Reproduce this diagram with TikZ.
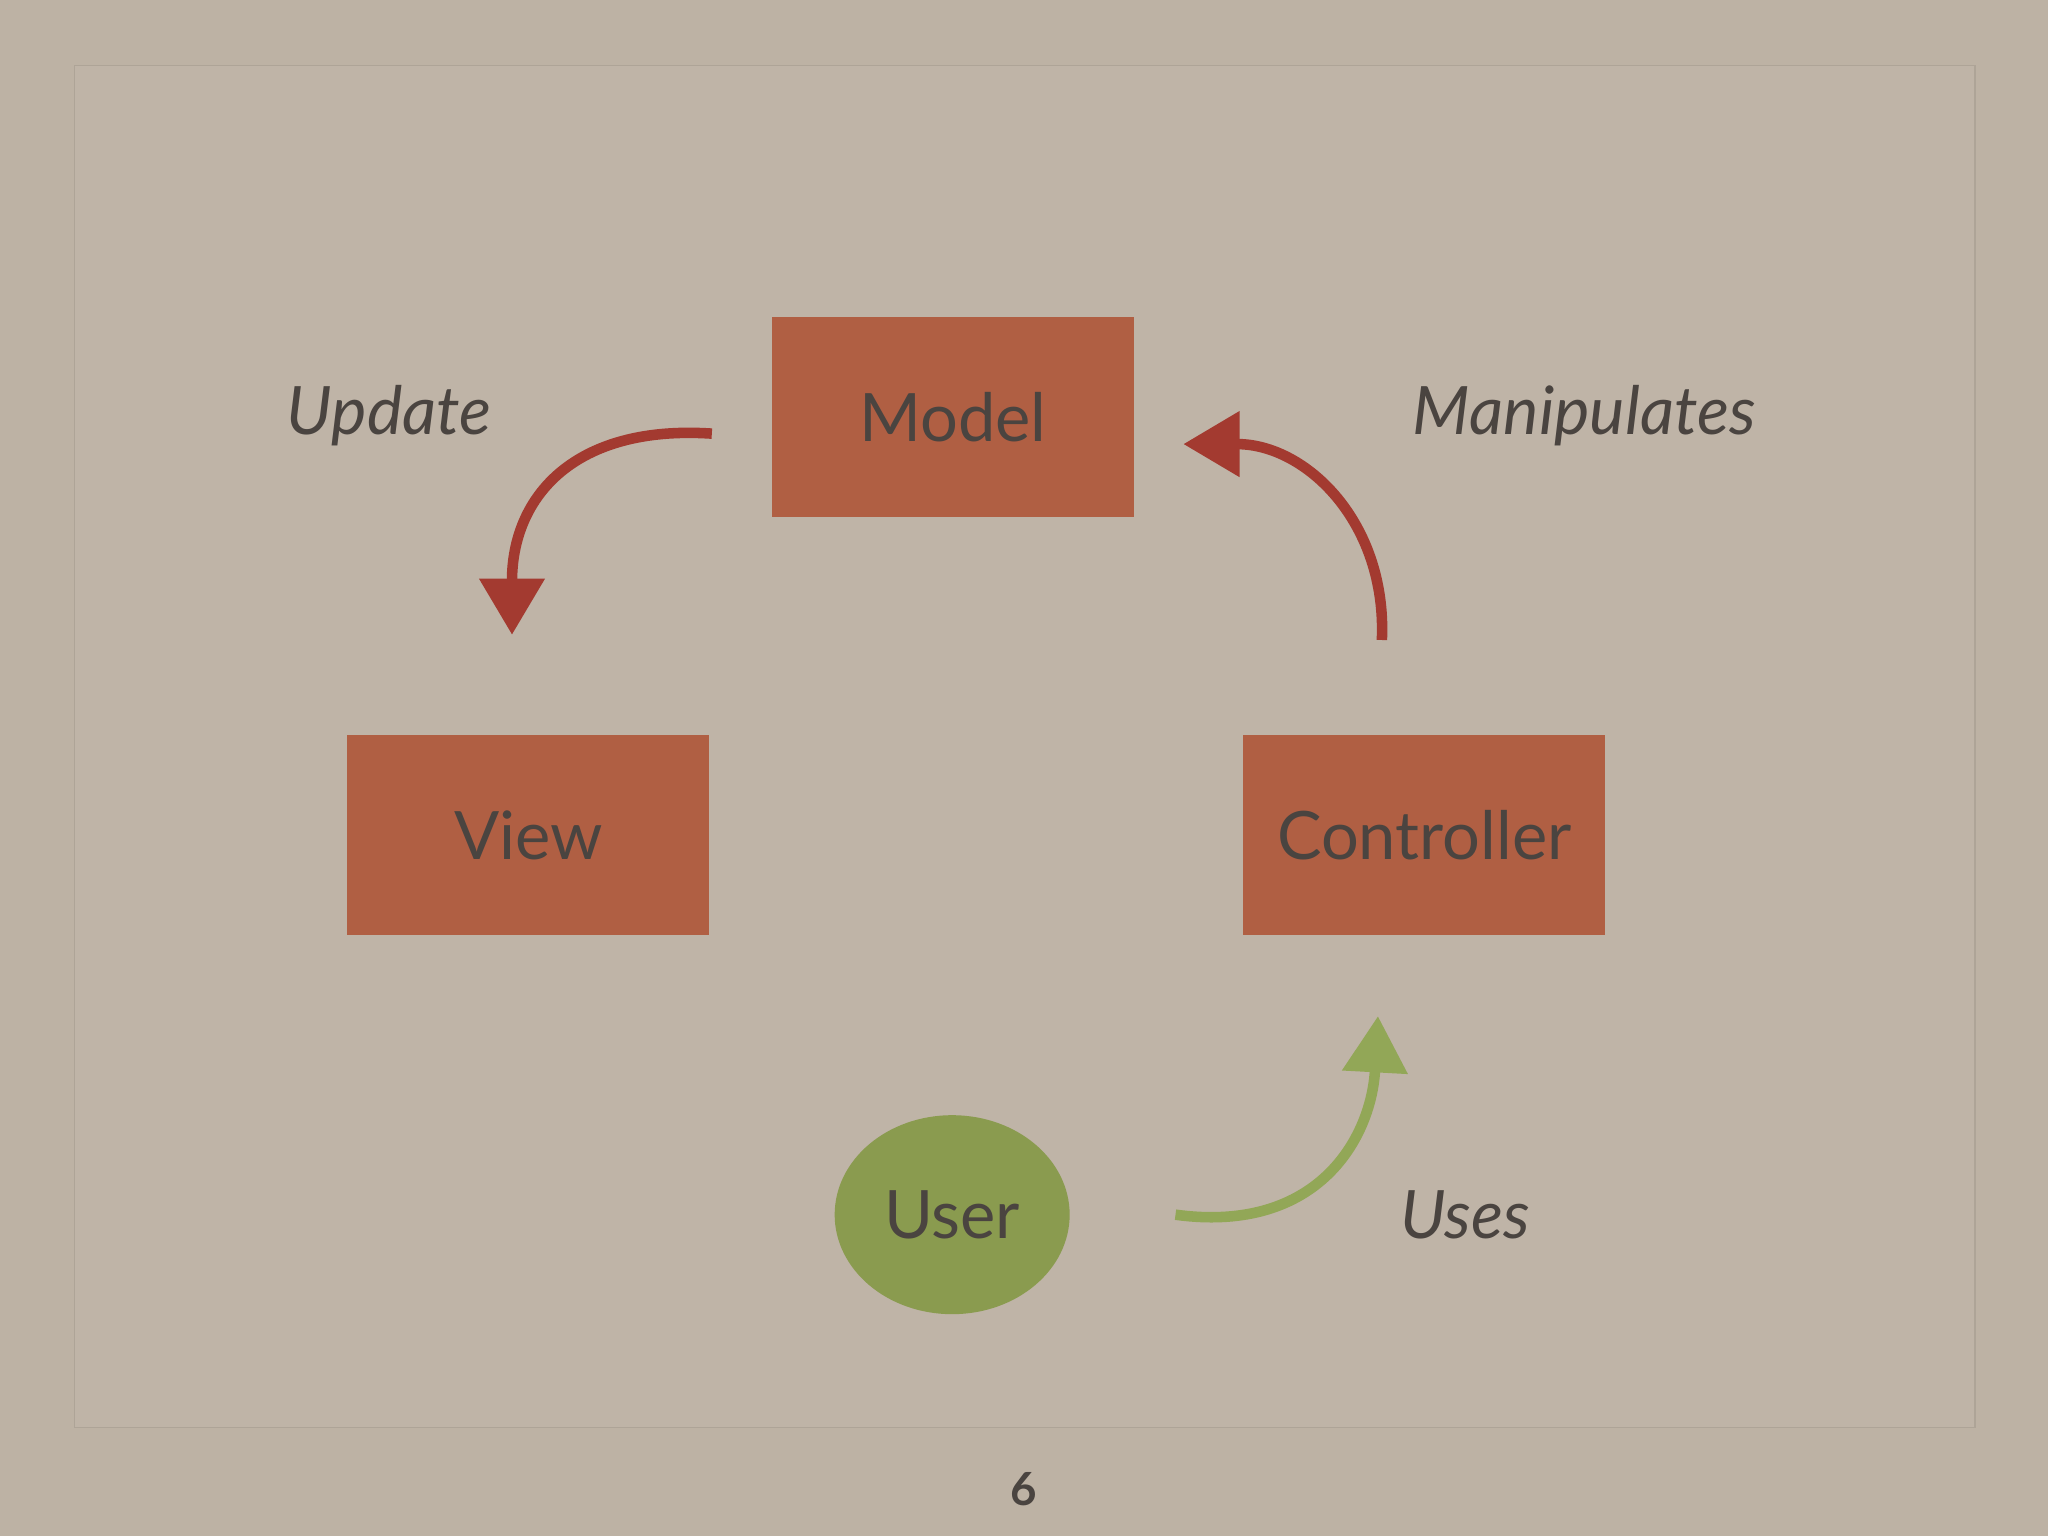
\documentclass[tikz,border=0pt]{standalone}
\usepackage{fontspec}
\setmainfont{Lato}
\usetikzlibrary{arrows.meta,shapes.geometric}
\definecolor{paper}{HTML}{BDB2A4}
\definecolor{boxred}{HTML}{B05F43}
\definecolor{usergreen}{HTML}{8A9B4F}
\definecolor{arrred}{HTML}{A33A30}
\definecolor{arrgreen}{HTML}{92A757}
\definecolor{ink}{HTML}{4A4440}
\tikzset{
  part/.style={fill=boxred,minimum width=3.62cm,minimum height=2cm,text=ink,font=\fontsize{19}{23}\selectfont},
  label/.style={text=ink,font=\itshape\fontsize{19}{23}\selectfont},
  curvearrow/.style={line width=3pt,-{Triangle[length=16pt,width=18pt]}}
}
\begin{document}
\begin{tikzpicture}[x=0.013061cm,y=-0.013061cm]
\fill[paper] (0,0) rectangle (1568,1176);
\draw[paper!92!black,fill=paper!97!white] (57,50) rectangle (1512,1093);

\node[part] (model) at (729.5,319.5) {Model};
\node[part] (view) at (404.5,639.5) {View};
\node[part] (controller) at (1090.5,639.5) {Controller};
\node[ellipse,inner sep=0pt,fill=usergreen,minimum width=2.35cm,minimum height=1.99cm,text=ink,font=\fontsize{19}{23}\selectfont] (user) at (729,930) {User};

\node[label] (update) at (298,318) {Update};
\node[label] (manip) at (1213,318) {Manipulates};
\node[label] (uses) at (1122,930) {Uses};
\node[text=ink,font=\bfseries\fontsize{13}{15}\selectfont] (page) at (784,1140) {6};

\coordinate (u1) at (545,332);
\coordinate (u2) at (392,486);
\coordinate (m1) at (1058,490);
\coordinate (m2) at (906,340);
\coordinate (s1) at (900,930);
\coordinate (s2) at (1055,778);

\draw[curvearrow,arrred] (u1) .. controls (440,325) and (392,380) .. (u2);
\draw[curvearrow,arrred] (m1) .. controls (1062,400) and (1000,340) .. (m2);
\draw[curvearrow,arrgreen] (s1) .. controls (1010,945) and (1050,870) .. (s2);
\end{tikzpicture}
\end{document}
